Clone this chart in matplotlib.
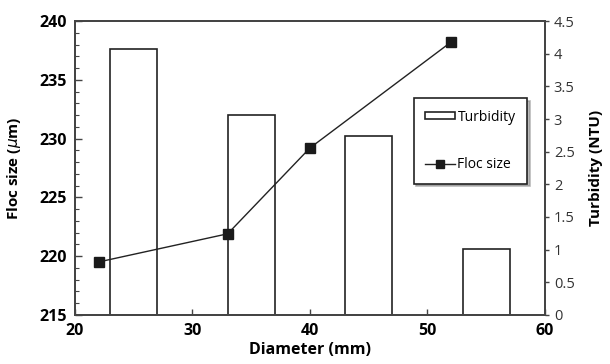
import numpy as np
from matplotlib import pyplot as plt
from matplotlib.ticker import MultipleLocator

plt.rcParams['font.family'] = ['Open Sans', 'DejaVu Sans']

# data
bar_x = [25, 35, 45, 55]
turbidity = [4.08, 3.06, 2.74, 1.01]
line_x = [22, 33, 40, 52]
floc_size = [219.5, 221.9, 229.2, 238.2]

fig = plt.figure(figsize=(6.1, 3.64), dpi=100)
ax = fig.add_axes([0.123, 0.135, 0.770, 0.807])
ax2 = ax.twinx()

ax2.bar(bar_x, turbidity, width=4, facecolor='white', edgecolor='#222222',
        linewidth=1.2, label='Turbidity')
ax.plot(line_x, floc_size, color='#222222', lw=1, marker='s', ms=7,
        mfc='#1a1a1a', mec='#1a1a1a', label='Floc size')

ax.set_zorder(2)
ax.patch.set_visible(False)

ax.set_xlim(20, 60)
ax.set_ylim(215, 240)
ax2.set_ylim(0, 4.5)
ax.xaxis.set_major_locator(MultipleLocator(10))
ax.yaxis.set_major_locator(MultipleLocator(5))
ax.yaxis.set_minor_locator(MultipleLocator(1))
ax2.set_yticks(np.arange(0, 4.51, 0.5))
ax2.set_yticklabels(['0', '0.5', '1', '1.5', '2', '2.5', '3', '3.5', '4', '4.5'])

ax.tick_params(axis='y', direction='in', which='major', length=5, width=1,
               labelsize=11.5, color='#444444', pad=6)
ax.tick_params(axis='y', direction='in', which='minor', length=3, width=0.8,
               color='#444444')
ax.tick_params(axis='x', direction='in', length=4, width=1, labelsize=11.5,
               color='#444444', pad=6)
ax2.tick_params(axis='y', direction='out', length=3, width=1, labelsize=10.5,
                color='#444444', labelcolor='#333333')
for lab in ax.get_xticklabels() + ax.get_yticklabels():
    lab.set_fontweight('bold')

for sp in list(ax.spines.values()) + list(ax2.spines.values()):
    sp.set_color('#444444')
    sp.set_linewidth(1.3)

ax.set_xlabel('Diameter (mm)', fontsize=11.5, fontweight='bold', labelpad=2)
ax.set_ylabel(r'Floc size ($\mu$m)', fontsize=11, fontweight='bold', labelpad=12)
ax2.set_ylabel('Turbidity (NTU)', fontsize=11, fontweight='bold', labelpad=10)

h1, l1 = ax2.get_legend_handles_labels()
h2, l2 = ax.get_legend_handles_labels()
leg = ax.legend(h1 + h2, l1 + l2, loc='upper left', bbox_to_anchor=(0.721, 0.738),
                fontsize=10, frameon=True, fancybox=False,
                shadow={'color': '0.55', 'alpha': 0.6},
                edgecolor='#222222', labelspacing=2.3, handlelength=2.1,
                handleheight=0.4, handletextpad=0.2, borderpad=0.85,
                borderaxespad=0, markerscale=0.85)
leg.get_frame().set_linewidth(1.2)

plt.savefig('out.png', dpi=100)
